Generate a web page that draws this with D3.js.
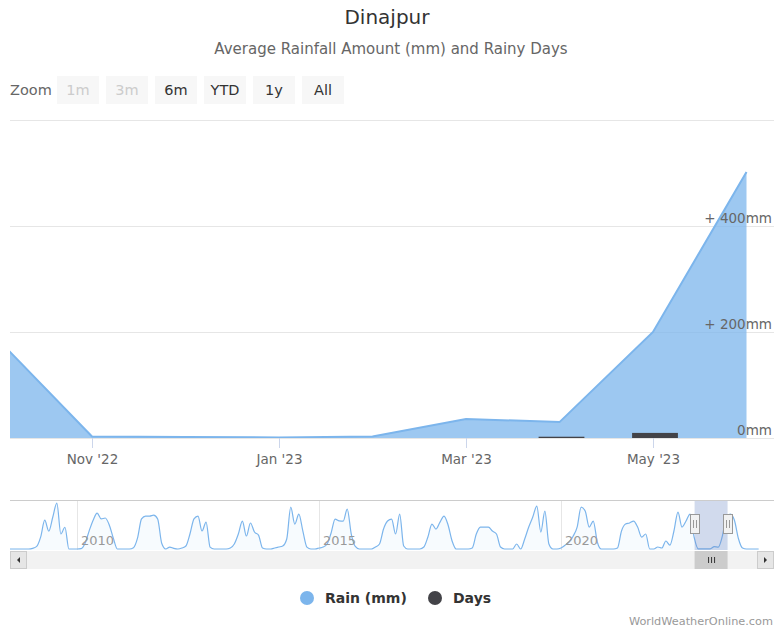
<!DOCTYPE html>
<html><head><meta charset="utf-8">
<script src="https://cdn.jsdelivr.net/npm/d3@7"></script>
<style>body{margin:0;background:#fff}svg{display:block;font-family:"DejaVu Sans",Verdana,sans-serif}</style>
</head><body><svg id="c" width="774" height="630"></svg>
<script>
// ---- data ----
const months = ["Oct '22","Nov '22","Dec '22","Jan '23","Feb '23","Mar '23","Apr '23","May '23","Jun '23"];
const rainMm = [185, 3, 2, 1, 3, 36, 30, 200, 502];
const rainyDays = [0, 0, 0, 0, 0, 0, 1, 4, 0];
const xTickLabels = ["Nov '22","Jan '23","Mar '23","May '23"];
const yTicks = [0, 200, 400, 600];
const yTickLabels = ["0mm", "+ 200mm", "+ 400mm", ""];
const zoomButtons = ["1m","3m","6m","YTD","1y","All"];
const zoomEnabled = [false,false,true,true,true,true];
const navYearTicks = [2010, 2015, 2020];
const navStart = 2008 + 7/12; // Aug 2008
const navRain = [
  0,0,0,0,0,
  0,10,40,190,450,280,500,718,234,340,0,0,
  0,5,90,280,450,560,470,484,375,170,0,0,
  0,0,20,170,470,515,515,530,470,90,0,30,
  10,0,15,47,234,470,515,281,421,30,0,0,
  0,0,15,78,234,437,203,406,265,218,15,0,
  0,15,31,47,156,655,390,546,280,30,0,0,
  15,31,78,250,468,440,437,624,234,40,0,0,
  0,0,31,78,312,437,468,234,546,47,0,0,
  0,0,31,187,390,312,420,515,375,125,0,0,
  0,0,16,234,343,343,343,281,234,31,0,0,
  0,78,0,156,343,499,671,265,593,78,0,0,
  16,60,110,200,343,655,593,343,437,110,0,0,
  0,0,16,281,390,406,437,343,187,234,0,0,
  31,16,125,60,281,577,343,437,546,185,3,2,
  1,3,36,30,200,502,546,450,160,16,0,0,
  0,0
];
const legendItems = [{name:"Rain (mm)", color:"#7cb5ec"}, {name:"Days", color:"#434348"}];

// ---- chart ----
const svg = d3.select("#c");
const P = {l:10, r:774, t:120, b:438};

svg.append("text").attr("x",387).attr("y",24).attr("text-anchor","middle")
  .attr("fill","#333").style("font-size","20px").text("Dinajpur");
svg.append("text").attr("x",391).attr("y",54).attr("text-anchor","middle")
  .attr("fill","#666").style("font-size","15px").text("Average Rainfall Amount (mm) and Rainy Days");

// zoom buttons
svg.append("text").attr("x",10).attr("y",95).attr("fill","#666").style("font-size","14.5px").text("Zoom");
const zb = svg.append("g").selectAll("g").data(zoomButtons).join("g")
  .attr("transform",(d,i)=>`translate(${57+i*49},76)`);
zb.append("rect").attr("width",42).attr("height",28).attr("fill","#f7f7f7");
zb.append("text").attr("x",21).attr("y",19).attr("text-anchor","middle")
  .attr("fill",(d,i)=>zoomEnabled[i]?"#333":"#ccc").style("font-size","14.5px").text(d=>d);

const x = d3.scaleLinear().domain([0, 8]).range([-1.5, 746.5]);
const y = d3.scaleLinear().domain([0, 600]).range([P.b, P.t]);
const yDays = d3.scaleLinear().domain([0, 250]).range([P.b, P.t]);

// gridlines
svg.append("g").selectAll("line").data(yTicks).join("line")
  .attr("x1",P.l).attr("x2",P.r).attr("y1",d=>y(d)+0.5).attr("y2",d=>y(d)+0.5)
  .attr("stroke","#e6e6e6");

svg.append("clipPath").attr("id","pc").append("rect")
  .attr("x",P.l).attr("y",P.t-2).attr("width",P.r-P.l).attr("height",P.b-P.t+2);
const pg = svg.append("g").attr("clip-path","url(#pc)");
pg.append("path").datum(rainMm)
  .attr("d", d3.area().x((d,i)=>x(i)).y0(P.b).y1(d=>y(d)))
  .attr("fill","#7cb5ec").attr("fill-opacity",0.75);
pg.append("path").datum(rainMm)
  .attr("d", d3.line().x((d,i)=>x(i)).y(d=>y(d)))
  .attr("fill","none").attr("stroke","#7cb5ec").attr("stroke-width",2);
const bw = (x(1)-x(0))*0.49;
pg.append("g").selectAll("rect").data(rainyDays).join("rect")
  .attr("x",(d,i)=>x(i)-bw/2+2).attr("width",bw)
  .attr("y",d=>yDays(d)).attr("height",d=>P.b-yDays(d)).attr("fill","#434348");

// y labels
svg.append("g").selectAll("text").data(yTicks).join("text")
  .attr("x",772).attr("y",d=>y(d)-3).attr("text-anchor","end")
  .attr("fill","#666").style("font-size","13.5px").text((d,i)=>yTickLabels[i]);

// x ticks
const xt = svg.append("g").selectAll("g").data(xTickLabels).join("g")
  .attr("transform",d=>`translate(${Math.round(x(months.indexOf(d)))+0.5},0)`);
xt.append("line").attr("y1",P.b).attr("y2",P.b+10).attr("stroke","#ccd6eb");
xt.append("text").attr("y",464).attr("text-anchor","middle").attr("fill","#666")
  .style("font-size","13.5px").text(d=>d);

// ---- navigator ----
const N = {t:500, b:550};
const xn = d3.scaleLinear().domain([2010, 2020]).range([77, 561]);
const yn = d3.scaleLinear().domain([0, 750]).range([549, 501]);
svg.append("clipPath").attr("id","nc").append("rect")
  .attr("x",P.l).attr("y",N.t).attr("width",P.r-P.l).attr("height",N.b-N.t);
const ng = svg.append("g");
ng.append("g").selectAll("line").data(navYearTicks).join("line")
  .attr("x1",d=>Math.round(xn(d))+0.5).attr("x2",d=>Math.round(xn(d))+0.5)
  .attr("y1",N.t).attr("y2",N.b).attr("stroke","#e6e6e6");
const ngc = ng.append("g").attr("clip-path","url(#nc)");
ngc.append("path").datum(navRain)
  .attr("d", d3.area().x((d,i)=>xn(navStart+i/12)).y0(N.b).y1(d=>yn(d)).curve(d3.curveMonotoneX))
  .attr("fill","#7cb5ec").attr("fill-opacity",0.06);
ngc.append("path").datum(navRain)
  .attr("d", d3.line().x((d,i)=>xn(navStart+i/12)).y(d=>yn(d)).curve(d3.curveMonotoneX))
  .attr("fill","none").attr("stroke","#7cb5ec").attr("stroke-width",1.2);
ng.append("g").selectAll("text").data(navYearTicks).join("text")
  .attr("x",d=>xn(d)+4).attr("y",545).attr("fill","#999").style("font-size","13px")
  .text(d=>d);
// selection
const selA = xn(2022 + 9/12 + x.invert(P.l)/12);
const selB = xn(2022 + 9/12 + x.invert(P.r)/12);
ng.append("rect").attr("x",selA).attr("y",N.t).attr("width",selB-selA).attr("height",N.b-N.t)
  .attr("fill","rgba(102,133,194,0.3)");
ng.append("line").attr("x1",P.l).attr("x2",P.r).attr("y1",N.t+0.5).attr("y2",N.t+0.5).attr("stroke","#ccc");

// scrollbar
const S = {t:551, h:18};
ng.append("rect").attr("x",P.l).attr("y",S.t).attr("width",P.r-P.l).attr("height",S.h).attr("fill","#f2f2f2");
ng.append("rect").attr("x",selA).attr("y",S.t).attr("width",selB-selA).attr("height",S.h).attr("fill","#ccc");
[-3,0,3].forEach(o=>ng.append("line").attr("x1",(selA+selB)/2+o+0.5).attr("x2",(selA+selB)/2+o+0.5)
  .attr("y1",S.t+6).attr("y2",S.t+12).attr("stroke","#333"));
[[P.l,1],[P.r-17,-1]].forEach(([bx,dir])=>{
  ng.append("rect").attr("x",bx+0.5).attr("y",S.t+0.5).attr("width",16).attr("height",S.h-1)
    .attr("fill","#e6e6e6").attr("stroke","#ccc");
  const cx = bx+8.5, cy = S.t+9;
  ng.append("path").attr("d", dir>0 ? `M${cx+1.5},${cy-3}L${cx-1.5},${cy}L${cx+1.5},${cy+3}Z`
                                    : `M${cx-1.5},${cy-3}L${cx+1.5},${cy}L${cx-1.5},${cy+3}Z`).attr("fill","#333");
});
// handles
[selA, selB].forEach(hx=>{
  const g = ng.append("g").attr("transform",`translate(${Math.round(hx)},524)`);
  g.append("rect").attr("x",-4.5).attr("y",-9.5).attr("width",9).attr("height",19)
    .attr("fill","#f2f2f2").attr("stroke","#999");
  [-1.5,1.5].forEach(o=>g.append("line").attr("x1",o).attr("x2",o).attr("y1",-4).attr("y2",4).attr("stroke","#999"));
});

// legend
const lg = svg.append("g");
const lx = [307, 435];
legendItems.forEach((d,i)=>{
  lg.append("circle").attr("cx",lx[i]).attr("cy",598).attr("r",7).attr("fill",d.color);
  lg.append("text").attr("x",lx[i]+18).attr("y",603).attr("fill","#333")
    .style("font-size","14px").style("font-weight","bold").text(d.name);
});
svg.append("text").attr("x",773).attr("y",625).attr("text-anchor","end").attr("fill","#999")
  .style("font-size","11.3px").text("WorldWeatherOnline.com");
</script></body></html>
